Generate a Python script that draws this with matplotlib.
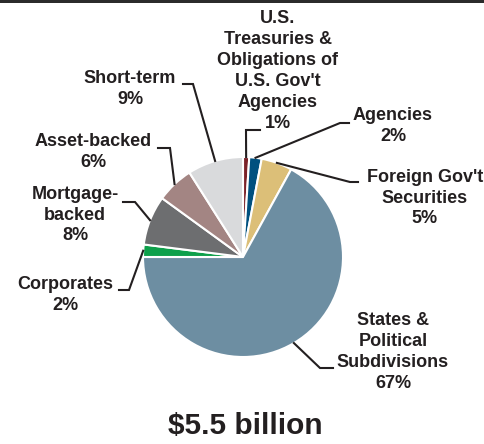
import matplotlib as mpl
mpl.use('Agg')
import matplotlib.pyplot as plt
import numpy as np

plt.rcParams['font.family'] = ['Liberation Sans', 'DejaVu Sans']

# portfolio mix
categories = ["U.S.\nTreasuries &\nObligations of\nU.S. Gov't\nAgencies",
              "Agencies",
              "Foreign Gov't\nSecurities",
              "States &\nPolitical\nSubdivisions",
              "Corporates",
              "Mortgage-\nbacked",
              "Asset-backed",
              "Short-term"]
shares = [1, 2, 5, 67, 2, 8, 6, 9]
colors = ['#7b2128', '#00507f', '#dcbf78', '#6d8ea2',
          '#0ea04b', '#6d6e70', '#a38583', '#d9dadc']
total = "$5.5 billion"

W, H = 485, 444


def Y(y):
    # pixel rows counted from the top
    return H - y


# label block centres and leader elbows, in pixels from the top-left
label_pos = [(278, 71), (393, 126), (425, 198), (393, 352),
             (65, 295), (75, 215), (93, 152), (130, 89)]
leaders = [[(246, 130), (260, 130)],
           [(340, 123), (349, 123)],
           [(350, 182), (358, 182)],
           [(320, 368), (333, 368)],
           [(129, 290), (119, 290)],
           [(135, 202), (123, 202)],
           [(170, 148), (158, 148)],
           [(193, 84), (183, 84)]]

txt = '#231f20'

fig = plt.figure(figsize=(W / 100, H / 100), dpi=100)
ax = fig.add_axes([0, 0, 1, 1])

wedges, _ = ax.pie(shares, colors=colors, startangle=90, counterclock=False,
                   center=(243, Y(257)), radius=100,
                   wedgeprops=dict(edgecolor='white', linewidth=1.5))

ax.set_aspect('equal', adjustable='box')
ax.set_xlim(0, W)
ax.set_ylim(0, H)
ax.axis('off')

for w, cat, pct, pos, elbow in zip(wedges, categories, shares, label_pos, leaders):
    mid = np.deg2rad((w.theta1 + w.theta2) / 2)
    x0 = w.center[0] + w.r * np.cos(mid)
    y0 = w.center[1] + w.r * np.sin(mid)
    xs = [x0] + [p[0] for p in elbow]
    ys = [y0] + [Y(p[1]) for p in elbow]
    ax.plot(xs, ys, color=txt, lw=1.5, solid_joinstyle='miter', zorder=1)
    ax.text(pos[0], Y(pos[1]), f"{cat}\n{pct}%", ha='center', va='center',
            multialignment='center', fontsize=13, fontweight='bold',
            color=txt, linespacing=1.3)

ax.text(245, Y(426), total, ha='center', va='center', fontsize=21.5,
        fontweight='bold', color=txt)

# rule across the top
ax.axhspan(Y(3), Y(0), color='#2b2b2b', lw=0)

fig.savefig('out.png', dpi=100)
